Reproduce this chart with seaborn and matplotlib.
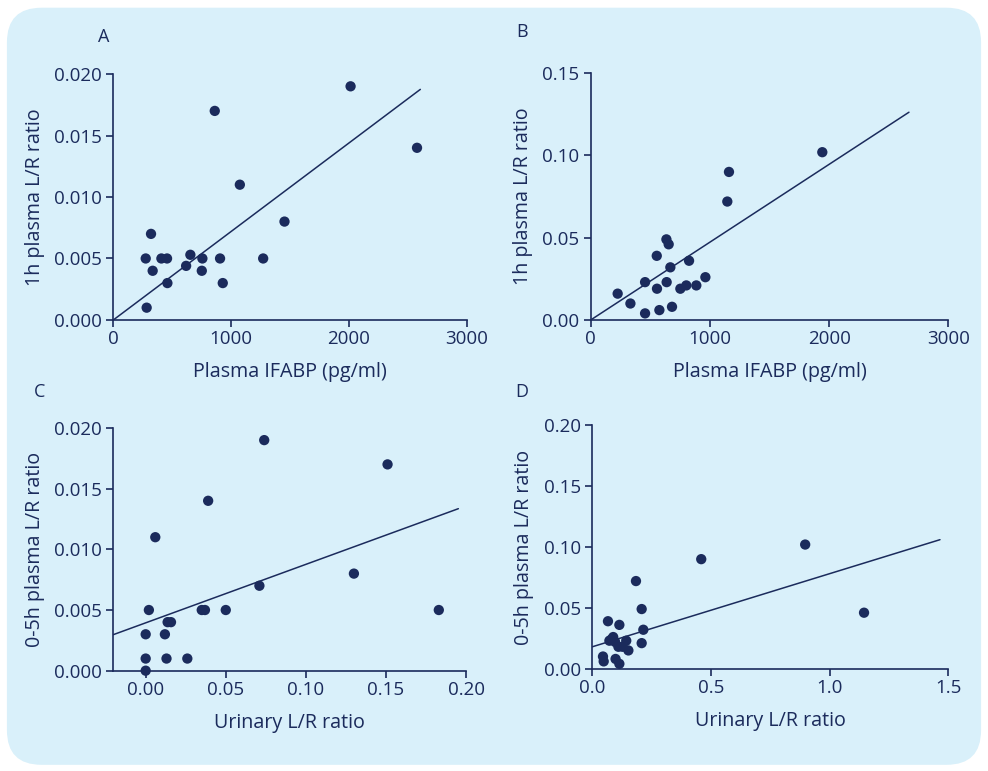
import numpy as np
import pandas as pd
import seaborn as sns
import matplotlib.pyplot as plt
from matplotlib.patches import FancyBboxPatch

# panel A: plasma IFABP vs 1h plasma L/R
a_x = [275, 320, 334, 408, 456, 459, 283, 618, 654, 756, 751, 906, 929, 861, 1074, 1272, 1453, 2014, 2578]
a_y = [0.005, 0.007, 0.004, 0.005, 0.005, 0.003, 0.001, 0.0044, 0.0053, 0.005, 0.004, 0.005, 0.003,
       0.017, 0.011, 0.005, 0.008, 0.019, 0.014]
a_line_x = [0, 2606]
a_line_y = [0, 0.01875]

# panel B: plasma IFABP vs 1h plasma L/R
b_x = [226, 333, 456, 456, 554, 556, 576, 635, 654, 637, 668, 682, 752, 802, 825, 886, 962, 1146, 1160, 1943]
b_y = [0.016, 0.010, 0.023, 0.004, 0.039, 0.019, 0.006, 0.049, 0.046, 0.023, 0.032, 0.008, 0.019,
       0.021, 0.036, 0.021, 0.026, 0.072, 0.090, 0.102]
b_line_x = [0, 2670]
b_line_y = [0, 0.1263]

# panel C: urinary L/R vs 0-5h plasma L/R
c_x = [0.000, 0.000, 0.000, 0.002, 0.006, 0.012, 0.013, 0.0137, 0.0158, 0.026, 0.035, 0.037, 0.039,
       0.050, 0.071, 0.074, 0.130, 0.151, 0.183]
c_y = [0.000, 0.001, 0.003, 0.005, 0.011, 0.003, 0.001, 0.004, 0.004, 0.001, 0.005, 0.005, 0.014,
       0.005, 0.007, 0.019, 0.008, 0.017, 0.005]
c_line_x = [-0.0202, 0.1952]
c_line_y = [0.00297, 0.01335]

# panel D: urinary L/R vs 0-5h plasma L/R
d_x = [0.045, 0.048, 0.066, 0.072, 0.080, 0.088, 0.096, 0.098, 0.110, 0.114, 0.114, 0.128, 0.143,
       0.152, 0.184, 0.208, 0.208, 0.215, 0.459, 0.897, 1.145]
d_y = [0.010, 0.006, 0.039, 0.023, 0.024, 0.026, 0.022, 0.008, 0.018, 0.004, 0.036, 0.018, 0.023,
       0.015, 0.072, 0.049, 0.021, 0.032, 0.090, 0.102, 0.046]
d_line_x = [0, 1.465]
d_line_y = [0.018, 0.106]

navy = "#1b2b5c"
panel_bg = "#d9f0fa"

sns.set_theme(style="ticks")
plt.rcParams["font.family"] = ["Open Sans", "DejaVu Sans"]
plt.rcParams.update({
    "axes.edgecolor": navy, "axes.labelcolor": navy, "xtick.color": navy, "ytick.color": navy,
    "text.color": navy, "axes.linewidth": 1.2, "xtick.major.width": 1.2, "ytick.major.width": 1.2,
    "xtick.major.size": 5, "ytick.major.size": 5, "xtick.labelsize": 13.5, "ytick.labelsize": 13.5,
    "xtick.major.pad": 2.5, "ytick.major.pad": 3,
})

fig = plt.figure(figsize=(9.88, 7.71), dpi=100, facecolor="white")
bg = FancyBboxPatch((0.007, 0.008), 0.986, 0.982, boxstyle="round,pad=0,rounding_size=0.035",
                    transform=fig.transFigure, facecolor=panel_bg, edgecolor="none",
                    mutation_aspect=988 / 771)
bg.set_zorder(-10)
fig.add_artist(bg)

panels = [
    ("A", [0.1147, 0.585, 0.3577, 0.319], a_x, a_y, a_line_x, a_line_y, (0, 3000), (0, 0.020),
     [0, 1000, 2000, 3000], [0, 0.005, 0.010, 0.015, 0.020], "{:.0f}", "{:.3f}",
     "Plasma IFABP (pg/ml)", "1h plasma L/R ratio", (0.105, 0.952)),
    ("B", [0.5979, 0.585, 0.3619, 0.320], b_x, b_y, b_line_x, b_line_y, (0, 3000), (0, 0.15),
     [0, 1000, 2000, 3000], [0, 0.05, 0.10, 0.15], "{:.0f}", "{:.2f}",
     "Plasma IFABP (pg/ml)", "1h plasma L/R ratio", (0.528, 0.958)),
    ("C", [0.1147, 0.1301, 0.3570, 0.3148], c_x, c_y, c_line_x, c_line_y, (-0.0202, 0.20), (0, 0.020),
     [0, 0.05, 0.10, 0.15, 0.20], [0, 0.005, 0.010, 0.015, 0.020], "{:.2f}", "{:.3f}",
     "Urinary L/R ratio", "0-5h plasma L/R ratio", (0.040, 0.492)),
    ("D", [0.5995, 0.1327, 0.3603, 0.3157], d_x, d_y, d_line_x, d_line_y, (0, 1.5), (0, 0.20),
     [0, 0.5, 1.0, 1.5], [0, 0.05, 0.10, 0.15, 0.20], "{:.1f}", "{:.2f}",
     "Urinary L/R ratio", "0-5h plasma L/R ratio", (0.528, 0.492)),
]

for (lab, rect, xs, ys, lx, ly, xlim, ylim, xt, yt, xf, yf, xlab, ylab, lpos) in panels:
    ax = fig.add_axes(rect)
    ax.set_facecolor("none")
    df = pd.DataFrame({"x": xs, "y": ys})
    sns.scatterplot(data=df, x="x", y="y", ax=ax, color=navy, s=55, edgecolor="none", zorder=3,
                    clip_on=False)
    sns.lineplot(x=lx, y=ly, ax=ax, color=navy, linewidth=1.1, zorder=2)
    ax.set_xlim(*xlim)
    ax.set_ylim(*ylim)
    ax.set_xticks(xt)
    ax.set_xticklabels([xf.format(v) for v in xt])
    ax.set_yticks(yt)
    ax.set_yticklabels([yf.format(v) for v in yt])
    ax.set_xlabel(xlab, fontsize=14.2, labelpad=10)
    ax.set_ylabel(ylab, fontsize=14.2, labelpad=7)
    sns.despine(ax=ax)
    fig.text(lpos[0], lpos[1], lab, fontsize=13, color=navy, ha="center", va="center")

fig.savefig("out.png", dpi=100, facecolor="white")
